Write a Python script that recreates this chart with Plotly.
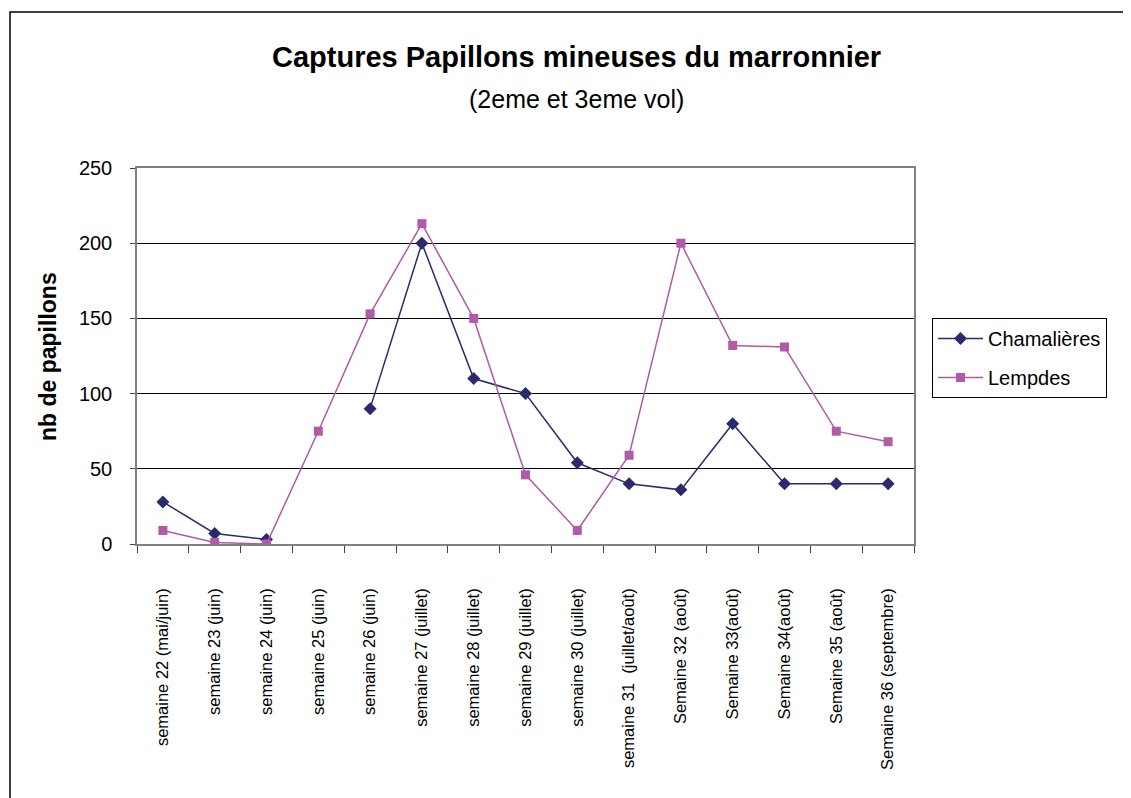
import plotly.graph_objects as go

categories = ["semaine 22 (mai/juin)", "semaine 23 (juin)", "semaine 24 (juin)", "semaine 25 (juin)",
              "semaine 26 (juin)", "semaine 27 (juillet)", "semaine 28 (juillet)", "semaine 29 (juillet)",
              "semaine 30 (juillet)", "semaine 31  (juillet/août)", "Semaine 32 (août)", "Semaine 33(août)",
              "Semaine 34(août)", "Semaine 35 (août)", "Semaine 36 (septembre)"]
chamalieres = [28, 7, 3, None, 90, 200, 110, 100, 54, 40, 36, 80, 40, 40, 40]
lempdes = [9, 1, 0, 75, 153, 213, 150, 46, 9, 59, 200, 132, 131, 75, 68]
y_ticks = [0, 50, 100, 150, 200, 250]

OFF = 8  # page body margin
W, H = 1131 - OFF, 798 - OFF
L, R, T, B = 137, 914, 168, 544  # plot area in reference pixels

def px_x(x):
    return (x - L) / (R - L)

def px_y(y):
    return (B - y) / (B - T)

fig = go.Figure()
fig.add_trace(go.Scatter(x=categories, y=chamalieres, name="Chamalières", mode="lines+markers",
                         connectgaps=False, legendgroup="a",
                         line=dict(color="#2B2A6E", width=1.5),
                         marker=dict(symbol="diamond", size=10, color="#2B2A6E")))
fig.add_trace(go.Scatter(x=categories, y=lempdes, name="Lempdes", mode="lines+markers",
                         legendgroup="b",
                         line=dict(color="#B05AA8", width=1.5),
                         marker=dict(symbol="square", size=9, color="#B05AA8")))

fig.update_layout(
    width=W, height=H,
    margin=dict(l=L - OFF, r=W - (R - OFF), t=T - OFF, b=H - (B - OFF), pad=0),
    paper_bgcolor="white", plot_bgcolor="white",
    font=dict(family="Liberation Sans, Arial, sans-serif", color="black"),
    showlegend=True,
    legend=dict(x=px_x(932), y=px_y(318), xanchor="left", yanchor="top",
                bordercolor="black", borderwidth=1, bgcolor="white",
                font=dict(size=20, family="Liberation Sans, Arial, sans-serif"),
                tracegroupgap=10, itemwidth=45),
    xaxis=dict(type="category", categoryorder="array", categoryarray=categories,
               tickangle=-90, tickson="boundaries", ticks="outside", ticklen=7,
               tickcolor="#404040", showgrid=False, showline=True, linecolor="#808080",
               linewidth=1.5, mirror=True, ticklabelstandoff=36,
               tickfont=dict(size=16.5, family="Liberation Sans Narrow, Liberation Sans, Arial, sans-serif"),
               range=[-0.5, len(categories) - 0.5]),
    yaxis=dict(range=[0, 250], tickvals=y_ticks, ticks="outside", ticklen=5, tickcolor="#404040",
               showgrid=True, gridcolor="black", gridwidth=1, showline=True, linecolor="#808080",
               linewidth=1.5, mirror=True, zeroline=False,
               tickfont=dict(size=20, family="Liberation Sans, Arial, sans-serif"), ticklabelstandoff=14),
    annotations=[
        dict(text="<b>Captures Papillons mineuses du marronnier</b>", xref="paper", yref="paper",
             x=px_x(576), y=px_y(57), showarrow=False, xanchor="center", yanchor="middle",
             font=dict(size=29, family="Liberation Sans, Arial, sans-serif")),
        dict(text="(2eme et 3eme vol)", xref="paper", yref="paper",
             x=px_x(576), y=px_y(99), showarrow=False, xanchor="center", yanchor="middle",
             font=dict(size=25, family="Liberation Sans Narrow, Liberation Sans, Arial, sans-serif")),
        dict(text="<b>nb de papillons</b>", xref="paper", yref="paper",
             x=px_x(48), y=px_y(357), showarrow=False, textangle=-90, xanchor="center", yanchor="middle",
             font=dict(size=23, family="Liberation Sans, Arial, sans-serif")),
    ],
    shapes=[
        dict(type="rect", xref="paper", yref="paper", x0=px_x(10), x1=px_x(1145),
             y0=px_y(815), y1=px_y(12), line=dict(color="black", width=1.5), layer="below"),
    ],
)

fig.write_html("out.html")
